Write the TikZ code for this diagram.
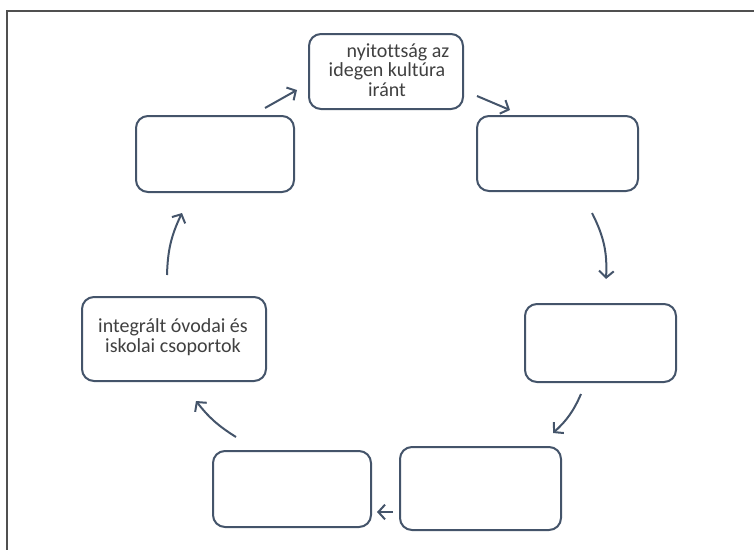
\documentclass[tikz,border=0pt]{standalone}
\usepackage{fontspec}
\setmainfont[Ligatures={NoCommon}]{Carlito}
\usetikzlibrary{arrows.meta}
\definecolor{boxline}{HTML}{44546A}
\definecolor{txt}{HTML}{404040}
\definecolor{frame}{HTML}{505050}
\tikzset{
  cyclebox/.style={draw=boxline, line width=1.5pt, rounded corners=9pt, fill=white},
  flow/.style={draw=boxline, line width=1.5pt, -{Straight Barb[length=5pt,width=11pt,line width=1.5pt]}},
  lbl/.style={text=txt, font=\fontsize{15pt}{14.5pt}\selectfont, align=center, inner sep=0pt}
}
\begin{document}
\begin{tikzpicture}[x=0.75pt,y=-0.75pt]
\useasboundingbox (0,0) rectangle (754,550);
% frame
\draw[frame, line width=1.5pt] (7,550) -- (7,11) -- (754,11);
% boxes
\draw[cyclebox] (309,34) rectangle (463,109);
\node[lbl] (A) at (387,70) {\hspace*{1.1em}nyitottság az\\idegen kultúra\\iránt};
\draw[cyclebox] (477,116) rectangle (638,191);
\coordinate (B) at (557.5,153.5);
\draw[cyclebox] (525,304) rectangle (676,382);
\coordinate (C) at (600.5,343);
\draw[cyclebox] (400,447) rectangle (561,530);
\coordinate (D) at (480.5,488.5);
\draw[cyclebox] (213,451) rectangle (371,527);
\coordinate (E) at (292,489);
\draw[cyclebox] (82,297) rectangle (266,381);
\node[lbl] (F) at (173,337) {integrált óvodai és\\iskolai csoportok};
\draw[cyclebox] (136,116) rectangle (294,192);
\coordinate (G) at (215,154);
% arrow end points
\coordinate (g1) at (265,108); \coordinate (g2) at (297,90);
\coordinate (a1) at (477,96);  \coordinate (a2) at (510,110);
\coordinate (b1) at (592,213); \coordinate (b2) at (606,279);
\coordinate (c1) at (581,394); \coordinate (c2) at (553,433);
\coordinate (d1) at (393,512); \coordinate (d2) at (377,512);
\coordinate (e1) at (236,437); \coordinate (e2) at (196,401);
\coordinate (f1) at (167,275); \coordinate (f2) at (182,213);
% arrows
\draw[flow] (g1) -- (g2);
\draw[flow] (a1) -- (a2);
\draw[flow] (b1) to[bend left=15] (b2);
\draw[flow] (c1) to[bend left=12] (c2);
\draw[flow] (d1) -- (d2);
\draw[flow] (e1) to[bend left=10] (e2);
\draw[flow] (f1) to[bend left=12] (f2);
\end{tikzpicture}
\end{document}
